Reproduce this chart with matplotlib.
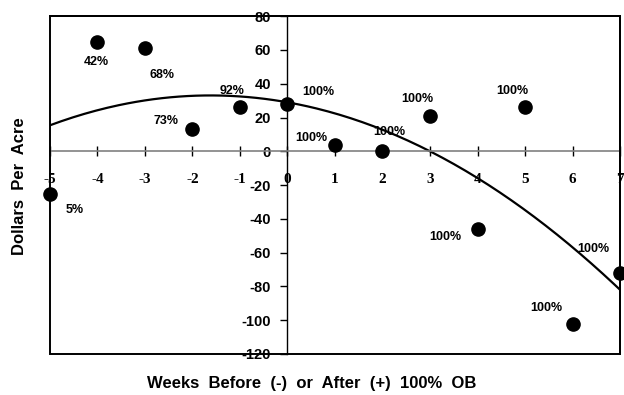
import numpy as np
import matplotlib.pyplot as plt
from matplotlib.patches import Rectangle

plt.rcParams["axes.unicode_minus"] = False

weeks = [-5, -4, -3, -2, -1, 0, 1, 2, 3, 4, 5, 6, 7]
dollars = [-25, 65, 61, 13, 26, 28, 4, 0, 21, -46, 26, -102, -72]
pct_labels = ["5%", "42%", "68%", "73%", "92%", "100%", "100%",
              "100%", "100%", "100%", "100%", "100%", "100%"]
# label offsets from each point, in points (x right, y up)
label_dx = [18, -1, 12, -19, -6, 22, -17, 5, -9, -23, -9, -19, -19]
label_dy = [-12, -15, -19, 6, 12, 9, 5, 14, 12, -6, 12, 11, 17]

# quadratic trend line
trend = [-1.548, -5.02, 29.0]

fig, ax = plt.subplots(figsize=(6.24, 3.95), dpi=100)
fig.subplots_adjust(left=0.0801, right=0.9936, top=0.959, bottom=0.104)

xs = np.linspace(-5, 7, 200)
ax.plot(xs, np.polyval(trend, xs), color="black", linewidth=1.6, zorder=2)

ax.plot(weeks, dollars, "o", color="black", markersize=9.5,
        clip_on=False, zorder=3)

for x, y, t, dx, dy in zip(weeks, dollars, pct_labels, label_dx, label_dy):
    ax.annotate(t, (x, y), xytext=(dx, dy), textcoords="offset points",
                ha="center", va="center", fontsize=9, fontweight="bold",
                family="Liberation Sans", zorder=4)

ax.set_xlim(-5, 7)
ax.set_ylim(-120, 80)

ax.spines["left"].set_position(("data", 0))
ax.spines["bottom"].set_position(("data", 0))
ax.spines["bottom"].set_color("#808080")
ax.spines["left"].set_linewidth(1.0)
ax.spines["bottom"].set_linewidth(1.2)
ax.spines["top"].set_linewidth(1.4)
ax.spines["right"].set_linewidth(1.4)
ax.add_patch(Rectangle((0, 0), 1, 1, transform=ax.transAxes, fill=False,
                       linewidth=1.4, edgecolor="black", clip_on=False,
                       zorder=5))

ax.set_xticks(range(-5, 8))
ax.set_yticks(range(-120, 81, 20))
ax.tick_params(axis="x", direction="inout", length=7, width=1,
               color="black", pad=12, labelsize=11)
ax.tick_params(axis="y", direction="out", length=5, width=1, pad=7,
               labelsize=10.5)
for lab in ax.get_xticklabels():
    lab.set_fontfamily("Liberation Serif")
    lab.set_fontweight("bold")
for lab in ax.get_yticklabels():
    lab.set_fontfamily("Liberation Sans")
    lab.set_fontweight("bold")

fig.text(0.5, 0.03, "Weeks  Before  (-)  or  After  (+)  100%  OB",
         ha="center", va="center", fontsize=12, fontweight="bold",
         family="Liberation Sans")
fig.text(0.032, 0.53, "Dollars  Per  Acre", rotation=90,
         ha="center", va="center", fontsize=12, fontweight="bold",
         family="Liberation Sans")

fig.savefig("out.png", dpi=100)
